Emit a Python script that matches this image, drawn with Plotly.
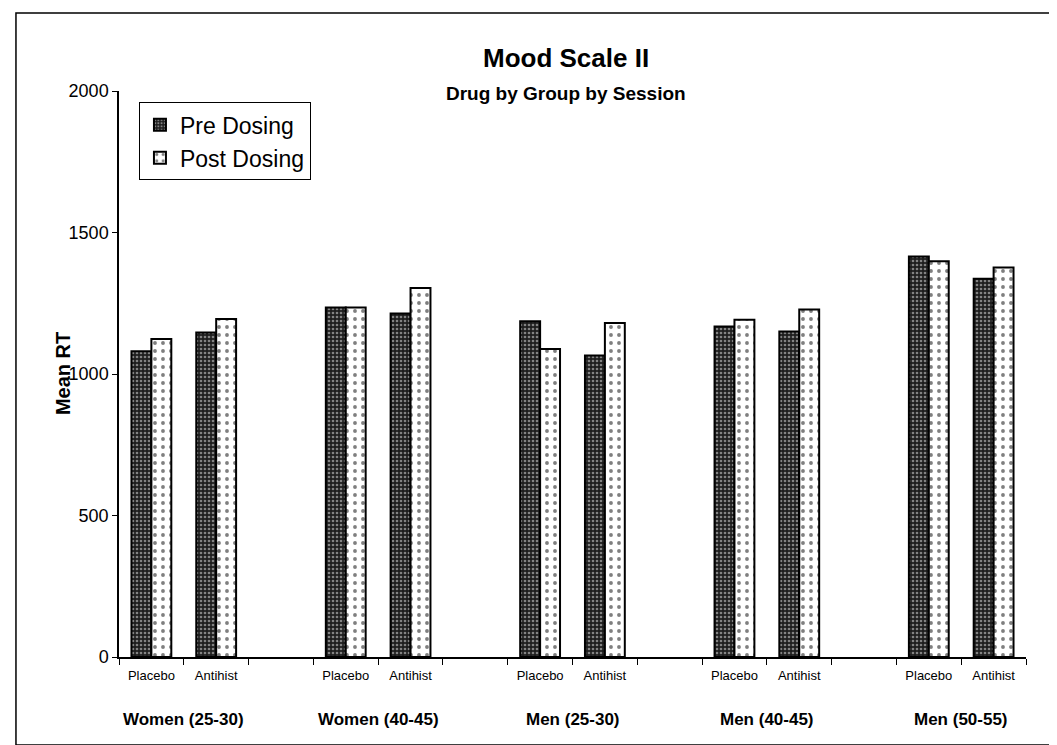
import plotly.graph_objects as go

groups = ["Women (25-30)", "Women (40-45)", "Men (25-30)", "Men (40-45)", "Men (50-55)"]
drugs = ["Placebo", "Antihist"]
pre_dosing = [1080, 1147, 1235, 1214, 1186, 1065, 1168, 1150, 1415, 1337]
post_dosing = [1124, 1194, 1235, 1304, 1088, 1180, 1192, 1228, 1398, 1376]
y_ticks = [0, 500, 1000, 1500, 2000]

# categories with an empty slot between groups
cats = []
for i, g in enumerate(groups):
    if i:
        cats.append(" " * i)
    for d in drugs:
        cats.append(g + "|" + d)
x = [g + "|" + d for g in groups for d in drugs]
tick_text = [c.split("|")[1] if "|" in c else "" for c in cats]

FONT = "Liberation Sans, Arial, sans-serif"

fig = go.Figure()
fig.add_bar(x=x, y=pre_dosing, name="Pre Dosing",
            marker=dict(color="#2a2a2a", line=dict(color="black", width=2),
                        pattern=dict(shape=".", fgcolor="#e8e8e8", bgcolor="#1e1e1e",
                                     size=4, solidity=0.35)))
fig.add_bar(x=x, y=post_dosing, name="Post Dosing",
            marker=dict(color="white", line=dict(color="black", width=2),
                        pattern=dict(shape=".", fgcolor="black", bgcolor="white",
                                     size=8, solidity=0.18)))

# group labels centred under each Placebo/Antihist pair
for g in groups:
    idx = cats.index(g + "|Placebo")
    fig.add_annotation(x=idx + 0.5, y=-0.111, xref="x", yref="paper", yanchor="middle",
                       text="<b>" + g + "</b>", showarrow=False,
                       font=dict(size=17, family=FONT, color="black"))

fig.add_annotation(x=0.493, y=1.058, xref="paper", yref="paper", yanchor="middle",
                   text="<b>Mood Scale II</b>", showarrow=False,
                   font=dict(size=26, family=FONT, color="black"))
fig.add_annotation(x=0.493, y=0.996, xref="paper", yref="paper", yanchor="middle",
                   text="<b>Drug by Group by Session</b>", showarrow=False,
                   font=dict(size=19, family=FONT, color="black"))
fig.add_annotation(x=-0.076, y=1000, xref="paper", yref="y", text="<b>Mean RT</b>", textangle=-90,
                   showarrow=False, font=dict(size=20, family=FONT, color="black"))

# outer frame
fig.add_shape(type="rect", xref="paper", yref="paper", x0=-0.1136, x1=1.0353, y0=-0.1555, y1=1.138,
              line=dict(color="black", width=1.5))

fig.update_layout(
    width=1057, height=745,
    margin=dict(l=111, r=39, t=83, b=96),
    paper_bgcolor="white", plot_bgcolor="white",
    barmode="group", bargap=0.385, bargroupgap=0,
    font=dict(family=FONT, color="black"),
    showlegend=True,
    legend=dict(x=0.022, y=0.98, xanchor="left", yanchor="top",
                bordercolor="black", borderwidth=1, bgcolor="white",
                font=dict(size=23, family=FONT, color="black")),
    xaxis=dict(type="category", categoryorder="array", categoryarray=cats,
               tickvals=cats, ticktext=tick_text, tickson="boundaries",
               ticks="outside", ticklen=6, tickcolor="black", ticklabelstandoff=6,
               showline=True, linecolor="black", linewidth=1.5, showgrid=False,
               tickfont=dict(size=13, family=FONT), range=[-0.5, len(cats) - 0.5]),
    yaxis=dict(range=[0, 2000], tickvals=y_ticks, ticks="outside", ticklen=5, tickcolor="black",
               showline=True, linecolor="black", linewidth=1.5, showgrid=False, zeroline=False,
               tickfont=dict(size=18, family=FONT)),
)

fig.write_html("out.html")
